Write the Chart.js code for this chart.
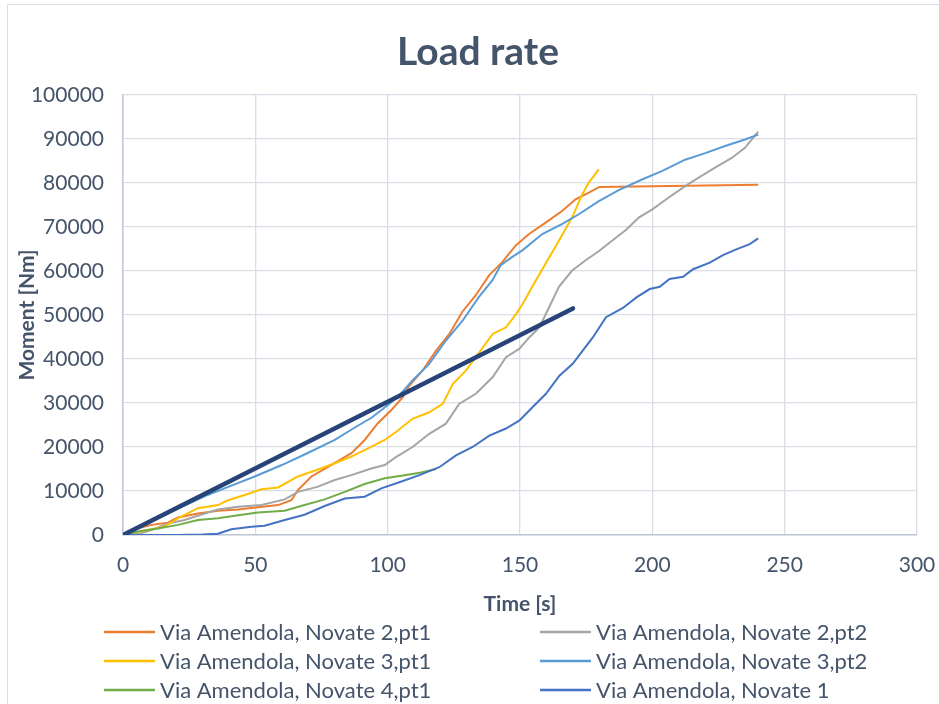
<!DOCTYPE html>
<html>
<head>
<meta charset="utf-8">
<script src="https://cdn.jsdelivr.net/npm/chart.js@4/dist/chart.umd.min.js"></script>
<style>
  html, body { margin: 0; padding: 0; background: #fff; }
  #wrap { width: 939px; height: 704px; position: relative; }
</style>
</head>
<body>
<div id="wrap"><canvas id="c" width="939" height="704"></canvas></div>
<script>
// Time [s] and moment [Nm] samples for each test
const novate2pt1T = [0, 5.7, 10.7, 17, 20.8, 28.3, 35.9, 43.5, 51, 58.6, 63.6, 66.1, 71.2, 77.5, 86.3, 91.3, 96.3, 101.4, 105.8, 108, 113.2, 118.3, 123.3, 128.3, 133.3, 138.3, 143.3, 148.4, 153.4, 159.7, 166, 171, 176, 180, 240];
const novate2pt1M = [0, 1500, 2300, 2800, 4000, 4900, 5500, 5800, 6300, 6800, 7900, 10200, 13300, 15500, 18600, 21600, 25400, 28400, 31400, 33800, 37400, 41900, 45700, 50800, 54500, 59000, 62000, 65800, 68400, 71000, 73700, 76300, 77800, 79100, 79600];

const novate2pt2T = [0, 5.7, 10.7, 17, 23.3, 30.9, 35.9, 43.5, 52.3, 61.1, 66.1, 73.7, 80, 86.3, 93.8, 98.9, 103.1, 109.4, 115.7, 122, 127, 133.3, 139.7, 144.7, 149.7, 153.5, 157.3, 160, 164.7, 169.7, 174.7, 180, 185, 190, 195, 200, 206.2, 212.4, 217.5, 223.7, 230, 235, 240];
const novate2pt2M = [0, 200, 1100, 2600, 3400, 4900, 5800, 6400, 6800, 8100, 9800, 11000, 12500, 13600, 15100, 15900, 17700, 20000, 23000, 25300, 29800, 32100, 35900, 40400, 42300, 44900, 47200, 50500, 56400, 60100, 62400, 64600, 67000, 69300, 72200, 74000, 76700, 79300, 81200, 83500, 85700, 88000, 91700];

const novate3pt1T = [0, 8.2, 15.7, 22, 28.3, 35.9, 39.7, 46, 52.3, 58.6, 66.1, 73.7, 80, 86.3, 91.3, 98.9, 103.1, 109.4, 115.7, 120.8, 124.6, 129.6, 134.6, 139.7, 144.7, 148.5, 151, 154.6, 159.7, 164.7, 169.7, 173.5, 176, 179.8];
const novate3pt1M = [0, 1000, 1900, 4200, 6100, 6800, 7900, 9100, 10400, 10800, 13300, 14900, 16300, 17800, 19300, 21600, 23400, 26400, 27900, 29800, 34300, 37400, 41500, 45700, 47200, 50200, 52500, 56400, 61700, 66900, 72200, 77400, 80100, 83100];

const novate3pt2T = [0, 10, 20, 32, 40, 50, 60, 70, 80, 87, 94, 100, 104, 109.4, 115.7, 122, 128.3, 134.5, 139.6, 142.7, 147.1, 150.9, 158.4, 166, 172.2, 179.8, 187.3, 196.1, 203.6, 212.4, 220, 227.5, 235, 240];
const novate3pt2M = [0, 2900, 5800, 9100, 11000, 13350, 15900, 18700, 21600, 24200, 26700, 29500, 31500, 35100, 38900, 44200, 48700, 54100, 57900, 61300, 63200, 64700, 68400, 70700, 72900, 75900, 78400, 80800, 82700, 85300, 86800, 88400, 89900, 91000];

const novate4pt1T = [0, 5.7, 13.2, 20.8, 28.3, 35.9, 43.5, 51, 61.1, 68.6, 76.2, 83.8, 91.3, 98.9, 106.4, 112.7, 118.3];
const novate4pt1M = [0, 800, 1500, 2300, 3400, 3800, 4500, 5100, 5500, 6800, 8100, 9800, 11600, 12900, 13600, 14200, 15000];

const novate1T = [0, 20, 30, 35.9, 40.9, 48.5, 53.5, 61.1, 68.6, 76.2, 83.8, 91.3, 97.6, 104.4, 112, 119.5, 125.8, 132.1, 138.4, 144.7, 149.7, 154.8, 159.8, 164.9, 169.9, 173.7, 177.5, 182.5, 188.9, 194, 199, 202.8, 206.5, 211.6, 215.4, 221.7, 226.7, 231.7, 236.8, 240];
const novate1M = [0, 0, 100, 300, 1300, 1900, 2100, 3400, 4600, 6600, 8300, 8700, 10600, 12000, 13600, 15400, 18100, 20000, 22600, 24200, 26000, 29100, 32100, 36200, 38900, 41900, 44900, 49500, 51600, 54000, 55900, 56400, 58200, 58700, 60400, 61900, 63600, 64900, 66100, 67400];

// Straight reference rate line
const rateLineT = [0, 170];
const rateLineM = [0, 51500];

const seriesNames = [
  'Via Amendola, Novate 2,pt1',
  'Via Amendola, Novate 2,pt2',
  'Via Amendola, Novate 3,pt1',
  'Via Amendola, Novate 3,pt2',
  'Via Amendola, Novate 4,pt1',
  'Via Amendola, Novate 1'
];
const seriesColors = ['#ED7D31', '#A5A5A5', '#FFC000', '#5B9BD5', '#70AD47', '#4472C4'];

const chartTitle = 'Load rate';
const xTicks = [0, 50, 100, 150, 200, 250, 300];
const yTicks = [0, 10000, 20000, 30000, 40000, 50000, 60000, 70000, 80000, 90000, 100000];

const toPoints = (ts, ms) => ts.map((t, i) => ({ x: t, y: ms[i] }));

const seriesData = [
  [novate2pt1T, novate2pt1M],
  [novate2pt2T, novate2pt2M],
  [novate3pt1T, novate3pt1M],
  [novate3pt2T, novate3pt2M],
  [novate4pt1T, novate4pt1M],
  [novate1T, novate1M]
];

const textColor = '#44546A';
const fontFamily = 'Lato, "Open Sans", sans-serif';

const datasets = seriesData.map(([ts, ms], i) => ({
  label: seriesNames[i],
  data: toPoints(ts, ms),
  borderColor: seriesColors[i],
  backgroundColor: seriesColors[i],
  borderWidth: 2,
  pointRadius: 0,
  tension: 0,
  order: 10 - i,
  inLegend: true
}));
datasets.push({
  label: 'Rate',
  data: toPoints(rateLineT, rateLineM),
  borderColor: '#264478',
  backgroundColor: '#264478',
  borderWidth: 4.5,
  borderCapStyle: 'round',
  pointRadius: 0,
  tension: 0,
  order: 0,
  inLegend: false
});

// Outer frame and chart title
const framePlugin = {
  id: 'frame',
  beforeDraw(chart) {
    const ctx = chart.ctx;
    ctx.save();
    ctx.fillStyle = '#fff';
    ctx.fillRect(0, 0, chart.width, chart.height);
    ctx.strokeStyle = '#D9DEE6';
    ctx.lineWidth = 1;
    ctx.beginPath();
    ctx.moveTo(7.5, chart.height + 2);
    ctx.lineTo(7.5, 4.5);
    ctx.lineTo(chart.width + 2, 4.5);
    ctx.stroke();
    ctx.fillStyle = textColor;
    ctx.font = 'bold 39px ' + fontFamily;
    ctx.textAlign = 'center';
    ctx.textBaseline = 'middle';
    ctx.fillText(chartTitle, 478, 52);
    ctx.restore();
  }
};

// Two-column legend below the x axis title
const legendPlugin = {
  id: 'twoColLegend',
  afterDraw(chart) {
    const ctx = chart.ctx;
    const items = chart.data.datasets.filter(d => d.inLegend);
    const colLineX = [104, 540];
    const rowY = [632, 661, 690];
    ctx.save();
    ctx.font = '22px ' + fontFamily;
    ctx.textBaseline = 'middle';
    ctx.textAlign = 'left';
    items.forEach((d, i) => {
      const col = i % 2, row = Math.floor(i / 2);
      const x = colLineX[col], y = rowY[row];
      ctx.strokeStyle = d.borderColor;
      ctx.lineWidth = 2.5;
      ctx.beginPath();
      ctx.moveTo(x, y);
      ctx.lineTo(x + 51, y);
      ctx.stroke();
      ctx.fillStyle = textColor;
      ctx.fillText(d.label, x + 56, y + 1);
    });
    ctx.restore();
  }
};

new Chart(document.getElementById('c'), {
  type: 'line',
  data: { datasets },
  plugins: [framePlugin, legendPlugin],
  options: {
    responsive: false,
    animation: false,
    devicePixelRatio: 1,
    layout: { padding: { left: 0, right: 22, top: 95, bottom: 86.8 } },
    plugins: {
      legend: { display: false },
      tooltip: { enabled: false },
      title: { display: false }
    },
    scales: {
      x: {
        type: 'linear',
        min: 0,
        max: 300,
        afterBuildTicks(scale) { scale.ticks = xTicks.map(v => ({ value: v })); },
        afterFit(scale) {
          scale.height = 82.2;
          scale.paddingLeft = 0;
          scale.paddingRight = 0;
        },
        grid: { color: '#D9DEE6', lineWidth: 1.3, drawTicks: false },
        border: { color: '#BFC7D5', width: 1.5 },
        ticks: { color: textColor, font: { family: fontFamily, size: 21 }, padding: 18, maxRotation: 0 },
        title: {
          display: true,
          text: 'Time [s]',
          color: textColor,
          font: { family: fontFamily, size: 21, weight: 'bold', lineHeight: 1.2 },
          padding: { top: 0, bottom: 0 }
        }
      },
      y: {
        type: 'linear',
        min: 0,
        max: 100000,
        afterBuildTicks(scale) { scale.ticks = yTicks.map(v => ({ value: v })); },
        afterFit(scale) {
          scale.width = 123;
          scale.paddingTop = 0;
          scale.paddingBottom = 0;
        },
        grid: { color: '#D9DEE6', lineWidth: 1.3, drawTicks: false },
        border: { color: '#BFC7D5', width: 1.5 },
        ticks: { color: textColor, font: { family: fontFamily, size: 21 }, padding: 19, callback: v => String(v) },
        title: {
          display: true,
          text: 'Moment [Nm]',
          color: textColor,
          font: { family: fontFamily, size: 21, weight: 'bold', lineHeight: 1.2 },
          padding: { top: 15, bottom: 0 }
        }
      }
    }
  }
});
</script>
</body>
</html>
